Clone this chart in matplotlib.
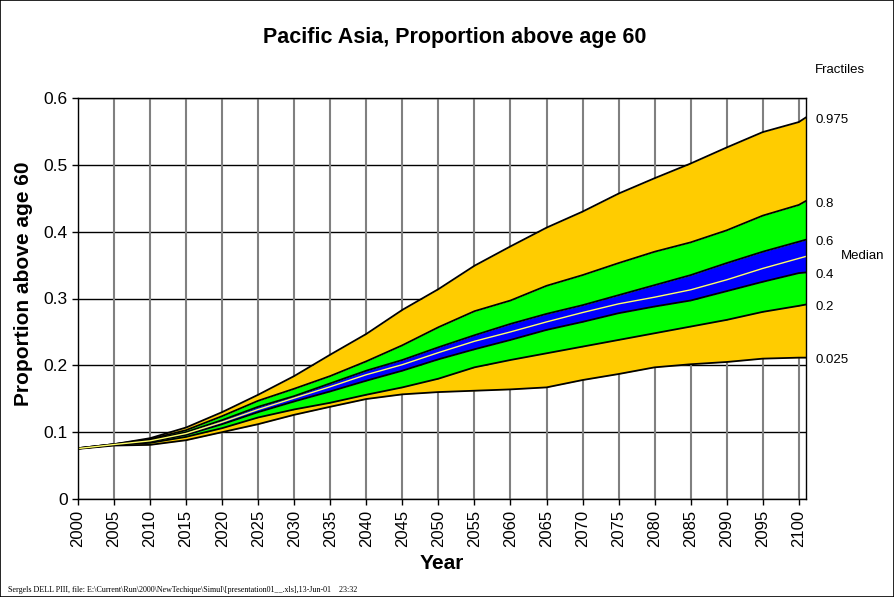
import matplotlib
matplotlib.use("Agg")
import matplotlib.pyplot as plt
from matplotlib.patches import Rectangle

plt.rcParams['font.family'] = ['Liberation Sans', 'DejaVu Sans']

years = [2000, 2005, 2010, 2015, 2020, 2025, 2030, 2035, 2040, 2045, 2050,
         2055, 2060, 2065, 2070, 2075, 2080, 2085, 2090, 2095, 2100, 2101]

q975 = [0.076, 0.082, 0.091, 0.107, 0.130, 0.156, 0.184, 0.216, 0.247, 0.283, 0.314,
        0.349, 0.378, 0.406, 0.430, 0.457, 0.480, 0.502, 0.526, 0.549, 0.564, 0.571]
q80 = [0.076, 0.082, 0.0895, 0.103, 0.124, 0.147, 0.165, 0.184, 0.206, 0.230, 0.257,
       0.281, 0.297, 0.319, 0.335, 0.353, 0.370, 0.384, 0.402, 0.424, 0.440, 0.446]
q60 = [0.076, 0.082, 0.088, 0.100, 0.118, 0.138, 0.154, 0.173, 0.192, 0.208, 0.227,
       0.245, 0.262, 0.277, 0.290, 0.305, 0.320, 0.335, 0.353, 0.370, 0.385, 0.388]
median = [0.0755, 0.0815, 0.087, 0.098, 0.115, 0.134, 0.151, 0.168, 0.186, 0.201, 0.219,
          0.236, 0.250, 0.265, 0.279, 0.292, 0.302, 0.313, 0.328, 0.345, 0.360, 0.363]
q40 = [0.0755, 0.081, 0.086, 0.096, 0.112, 0.130, 0.146, 0.161, 0.177, 0.192, 0.209,
       0.224, 0.238, 0.253, 0.265, 0.278, 0.288, 0.297, 0.311, 0.325, 0.338, 0.339]
q20 = [0.0755, 0.081, 0.084, 0.093, 0.106, 0.122, 0.134, 0.144, 0.156, 0.167, 0.180,
       0.197, 0.208, 0.218, 0.228, 0.238, 0.248, 0.258, 0.268, 0.280, 0.289, 0.291]
q025 = [0.075, 0.080, 0.081, 0.088, 0.100, 0.112, 0.126, 0.138, 0.1496, 0.1566, 0.160,
        0.162, 0.164, 0.167, 0.178, 0.187, 0.197, 0.2016, 0.205, 0.210, 0.2115, 0.2115]

tick_years = list(range(2000, 2101, 5))
y_ticks = [0, 0.1, 0.2, 0.3, 0.4, 0.5, 0.6]

fractile_labels = [("0.975", q975), ("0.8", q80), ("0.6", q60),
                   ("0.4", q40), ("0.2", q20), ("0.025", q025)]

GOLD = "#FFCC00"
GREEN = "#00FF00"
BLUE = "#0000FF"

fig = plt.figure(figsize=(8.94, 5.97), dpi=100)
ax = fig.add_axes([78 / 894, 1 - 499 / 597, (806 - 78) / 894, (499 - 98) / 597])

# grid: black horizontal, grey vertical
for yv in y_ticks:
    ax.axhline(yv, color="black", lw=1.0, zorder=1)
for xv in tick_years:
    ax.axvline(xv, color="#808080", lw=1.5, zorder=1)

# fractile bands
ax.fill_between(years, q025, q20, color=GOLD, lw=0, zorder=2)
ax.fill_between(years, q20, q40, color=GREEN, lw=0, zorder=2)
ax.fill_between(years, q40, q60, color=BLUE, lw=0, zorder=2)
ax.fill_between(years, q60, q80, color=GREEN, lw=0, zorder=2)
ax.fill_between(years, q80, q975, color=GOLD, lw=0, zorder=2)

for _, q in fractile_labels:
    ax.plot(years, q, color="black", lw=1.3, zorder=3)
ax.plot(years, median, color="#FFFF66", lw=1.0, zorder=4)

ax.set_xlim(2000, 2101)
ax.set_ylim(0, 0.6)
ax.set_xticks(tick_years)
ax.set_xticklabels([str(y) for y in tick_years], rotation=90, fontsize=12)
ax.set_yticks(y_ticks)
ax.set_yticklabels(["0", "0.1", "0.2", "0.3", "0.4", "0.5", "0.6"], fontsize=12.5)
ax.tick_params(axis="both", direction="out", length=4, width=1, color="black")
for s in ax.spines.values():
    s.set_color("black")
    s.set_linewidth(1.0)
    s.set_zorder(5)

ax.set_xlabel("Year", fontsize=15, fontweight="bold", labelpad=5)
ax.set_ylabel("Proportion above age 60", fontsize=15, fontweight="bold")
ax.yaxis.set_label_coords(-0.062, 0.537)

fig.text(455 / 894, 1 - 38 / 597, "Pacific Asia, Proportion above age 60",
         ha="center", va="center", fontsize=15.5, fontweight="bold")

# right-hand fractile annotations
fig.text(815 / 894, 1 - 70 / 597, "Fractiles", ha="left", va="center", fontsize=9.5)
for label, q in fractile_labels:
    ax.annotate(label, xy=(1, q[-1]), xycoords=("axes fraction", "data"),
                xytext=(7, -2), textcoords="offset points",
                ha="left", va="center", fontsize=9.5, annotation_clip=False)
ax.annotate("Median", xy=(1, median[-1]), xycoords=("axes fraction", "data"),
            xytext=(25, 0), textcoords="offset points",
            ha="left", va="center", fontsize=9.5, annotation_clip=False)

fig.text(8 / 894, 1 - 590 / 597,
         "Sergels DELL PIII, file: E:\\Current\\Run\\2000\\NewTechique\\Simul\\[presentation01__.xls],13-Jun-01    23:32",
         ha="left", va="center", fontsize=5.75, family=["Liberation Serif", "DejaVu Serif"])

fig.patches.append(Rectangle((0, 0), 1, 1, transform=fig.transFigure,
                             fill=False, edgecolor="black", lw=1.2))

fig.savefig("out.png", dpi=100)
